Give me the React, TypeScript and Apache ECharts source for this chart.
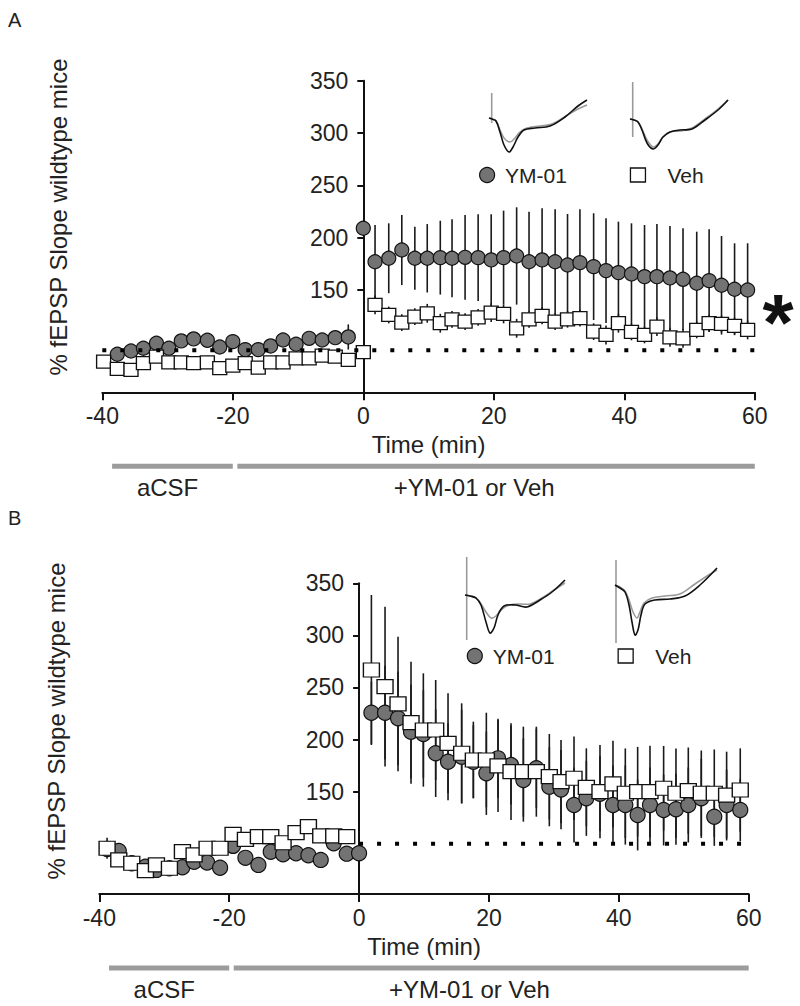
import React, { useEffect, useRef } from "react";
import * as echarts from "echarts";

const FONT = "'Liberation Sans', Arial, Helvetica, sans-serif";

// ---------- shared axis values ----------
const X_MIN = -40;
const X_MAX = 60;
const X_STEP = 20;
const Y_MAX = 350;
const Y_TICKS = [150, 200, 250, 300, 350];

// ---------- Panel A ----------
const timeA = [
  -39.8, -37.7, -35.6, -33.7, -31.7, -29.8, -27.9, -26, -23.9, -22, -20, -18.1, -16.1, -14.2, -12.3, -10.3,
  -8.3, -6.3, -4.3, -2.3, 0, 1.8, 3.9, 5.9, 7.9, 9.8, 11.8, 13.6, 15.6, 17.6, 19.6, 21.5, 23.5, 25.4, 27.4,
  29.4, 31.3, 33.2, 35.3, 37.2, 39.1, 41.1, 43.1, 45, 47, 49, 51.1, 53, 54.9, 56.9, 58.9,
];
const ymA = [
  null, 88.6, 91.7, 94.3, 99.1, 94.3, 101.3, 103.2, 101.9, 95.5, 100.6, 93, 93, 96.5, 102.2, 98.1, 103.8,
  102.2, 104.4, 105.1, 209, 177, 180.3, 188.2, 180.3, 180.3, 180.9, 180.3, 181.2, 180.9, 178.7, 180.9, 182.5,
  177, 178.7, 177, 173.9, 176.1, 172.3, 168.5, 166.6, 165.3, 162.7, 162.7, 161.5, 160.2, 156.4, 158.9, 154.5,
  150.7, 150,
];
const ymSemA = [
  0, 3, 3, 4, 4, 4, 4, 4, 4, 4, 4, 4, 4, 4, 4, 5, 5, 5, 6, 12, 0, 35, 33.4, 33.5, 30.2, 32.7, 35.3, 37.2, 40.5,
  41.4, 43.6, 44.9, 46.5, 47.8, 49.3, 50.1, 48.7, 51, 51, 50, 48.7, 48.4, 49.4, 50.3, 49.7, 48.8, 49.3, 49.1,
  47.1, 43.9, 44.6,
];
const vehA = [
  81.5, 74.5, 73.6, 80, 86.3, 80.9, 80.9, 80, 80.9, 75.2, 77.7, 80, 75.8, 80.9, 80.9, 84.7, 84.7, 87.2, 86.3,
  83.1, 90.5, 135.7, 126.1, 118.8, 124.5, 127.7, 118.2, 122, 119.7, 123.9, 128.3, 127.1, 113.4, 122, 125.2,
  119.7, 122, 123, 110.2, 107, 118.2, 109.9, 107, 115, 104.8, 103.8, 111.8, 118.2, 117.5, 115.6, 111.8,
];
const vehSemA = [
  5, 5, 5, 5, 5, 4, 4, 5, 5, 5, 5, 5, 5, 4, 4, 5, 5, 5, 5, 5, 6, 9, 8, 8, 8, 9, 9, 8, 8, 8, 9, 9, 9, 8, 8, 8, 8,
  8, 8, 9, 9, 8, 8, 9, 9, 9, 8, 8, 8, 8, 9,
];
const baselineA = 92.4;
const baselineSpanA = [-40, 60];

// ---------- Panel B ----------
const timeB = [
  -38.8, -37, -35, -32.9, -31.2, -29.2, -27.2, -25.4, -23.4, -21.4, -19.4, -17.5, -15.5, -13.6, -11.7, -9.7,
  -7.8, -5.9, -3.9, -1.9, 0, 1.9, 4, 6, 8, 9.9, 11.8, 13.7, 15.8, 17.6, 19.6, 21.4, 23.4, 25.3, 27.3, 29.3,
  31.1, 33.1, 35, 37.1, 39.1, 41, 42.9, 44.8, 46.9, 48.8, 50.7, 52.7, 54.7, 56.6, 58.7,
];
const ymB = [
  95, 93.1, 81.3, 78, 74.9, 76.5, 77.5, 82.8, 82, 77, 98, 86.5, 79.7, 92.4, 90, 90.9, 89, 84.5, 100.5, 90.5,
  90.9, 225.8, 225.8, 220.4, 207.6, 205.4, 186.9, 178.8, 183.6, 178.8, 167.7, 182, 175.6, 161.2, 172.5, 154.8,
  152, 137.2, 143.6, 148, 137.2, 137.2, 127.6, 137.2, 132.4, 133.1, 137.2, 143.6, 126, 137.2, 132.4,
];
const ymSemB = [
  5, 5, 5, 5, 5, 5, 5, 5, 5, 5, 5, 5, 5, 5, 5, 5, 5, 5, 5, 5, 4, 30, 45, 45, 45, 42, 42, 37, 45, 35, 40, 38,
  38, 40, 38, 38, 38, 36, 36, 36, 38, 38, 34, 36, 34, 34, 36, 38, 28, 34, 30,
];
const vehB = [
  95.7, 84.5, 81.3, 74.2, 79.7, 76.5, 92.4, 89.3, 95.7, 95.7, 109.1, 104.3, 106.8, 106.8, 101, 110.7, 116.4,
  107.5, 107.5, 106.8, null, 266.8, 250.8, 234.2, 216.2, 209.2, 209.2, 196.4, 186.9, 180.4, 180.4, 174.7,
  169.2, 169.2, 169.2, 164.4, 159.6, 162.9, 154.2, 150, 157.4, 148.5, 150, 150, 153.3, 148.5, 151, 148.5,
  148.5, 146.8, 151.6,
];
const vehSemB = [
  10, 6, 5, 5, 5, 5, 5, 5, 5, 5, 6, 5, 5, 6, 5, 5, 5, 5, 5, 5, 0, 72, 76.7, 64.6, 58.6, 54.4, 48, 48, 47.9,
  36.8, 45.4, 44.1, 46.4, 43.2, 43.2, 41, 40, 40, 37.4, 44.8, 41.6, 43, 43, 44, 40.6, 43, 41.4, 41, 42, 41.6,
  40,
];
const baselineB = 100;
const baselineSpanB = [0, 60];

// ---------- treatment phases (minutes) ----------
const phaseNames = ["aCSF", "+YM-01 or Veh"];
const phaseFrom = [-38.5, -19.3];
const phaseTo = [-20, 60];
const phaseLabelAt = [-30, 17];

// ---------- inset fEPSP trace shapes (local drawing units) ----------
const traceA1 = {
  artifact: [[3.7, 3], [3.7, 33]],
  gray: [[1, 28], [4, 29], [8, 31], [12, 40], [16, 48], [22, 52], [27, 48], [32, 42], [39, 38], [52, 36], [64, 34], [78, 26], [90, 19], [99, 15]],
  black: [[1, 28], [4, 29], [8, 31], [12, 42], [16, 55], [21, 62], [25, 57], [30, 47], [36, 40], [47, 38], [62, 36], [77, 27], [90, 16], [99, 10]],
};
const traceA2 = {
  artifact: [[4.7, -8], [4.7, 47]],
  gray: [[2, 29], [6, 30], [10, 32], [14, 39], [19, 50], [25, 57], [30, 54], [35, 47], [42, 42], [52, 41], [64, 38], [77, 29], [90, 19], [100, 10]],
  black: [[2, 29], [6, 30], [10, 32], [14, 40], [19, 53], [25, 59], [30, 55], [35, 47], [42, 42], [52, 40], [64, 39], [77, 30], [90, 20], [100, 10]],
};
const traceB1 = {
  artifact: [[3.7, -18], [3.7, 65]],
  gray: [[2, 20], [7, 21], [13, 23], [18, 29], [23, 37], [28, 43], [33, 41], [39, 34], [47, 30], [57, 29], [67, 29], [79, 23], [91, 15], [102, 8]],
  black: [[2, 20], [7, 21], [13, 23], [18, 30], [23, 47], [27, 58], [31, 53], [35, 40], [41, 31], [52, 30], [64, 32], [77, 25], [89, 17], [102, 5]],
};
const traceB2 = {
  artifact: [[3, -15], [3, 68]],
  gray: [[2, 10], [7, 12], [12, 16], [16, 25], [20, 37], [24, 43], [27, 37], [31, 28], [39, 23], [52, 21], [67, 19], [82, 9], [94, 1], [104, -5]],
  black: [[2, 10], [7, 13], [12, 17], [16, 30], [19, 47], [22, 60], [25, 55], [28, 40], [32, 29], [42, 25], [57, 24], [72, 21], [87, 10], [104, -7]],
};

type Panel = {
  letter: string;
  grid: { left: number; top: number; width: number; height: number };
  yMin: number;
  time: number[];
  ym: (number | null)[];
  ymSem: number[];
  veh: (number | null)[];
  vehSem: number[];
  base: number;
  baseSpan: number[];
  circle: number;
  square: number[];
  yNameX: number;
  yNameY: number;
  letterY: number;
  legendYM: [number, number];
  legendVeh: [number, number];
  insets: { shape: any; x: number; y: number }[];
};

const panels: Panel[] = [
  {
    letter: "A",
    grid: { left: 102.3, top: 80.7, width: 652.5, height: 311.6 },
    yMin: 52.2,
    time: timeA, ym: ymA, ymSem: ymSemA, veh: vehA, vehSem: vehSemA,
    base: baselineA, baseSpan: baselineSpanA,
    circle: 14, square: [14, 13],
    yNameX: 58, yNameY: 217, letterY: 20,
    legendYM: [479, 164], legendVeh: [629.8, 164],
    insets: [
      { shape: traceA1, x: 488, y: 90 },
      { shape: traceA2, x: 628, y: 90 },
    ],
  },
  {
    letter: "B",
    grid: { left: 99.3, top: 583.3, width: 649.4, height: 310.7 },
    yMin: 51.8,
    time: timeB, ym: ymB, ymSem: ymSemB, veh: vehB, vehSem: vehSemB,
    base: baselineB, baseSpan: baselineSpanB,
    circle: 15, square: [16, 14],
    yNameX: 56, yNameY: 721, letterY: 518,
    legendYM: [466.7, 645], legendVeh: [617.5, 645],
    insets: [
      { shape: traceB1, x: 463, y: 575 },
      { shape: traceB2, x: 613, y: 575 },
    ],
  },
];

const pairs = (t: number[], v: (number | null)[]) =>
  t.map((x, i) => [x, v[i]]).filter((p) => p[1] !== null && p[1] !== undefined);

const errData = (t: number[], v: (number | null)[], s: number[]) =>
  t.map((x, i) => [x, v[i], s[i]]).filter((p) => p[1] !== null && p[1] !== undefined && (p[2] as number) > 0);

const errorBarSeries = (idx: number, name: string, data: any[]) => ({
  type: "custom",
  name,
  xAxisIndex: idx,
  yAxisIndex: idx,
  silent: true,
  data,
  encode: { x: 0, y: [1] },
  renderItem: (params: any, api: any) => {
    const x = api.value(0);
    const m = api.value(1);
    const s = api.value(2);
    const p1 = api.coord([x, m - s]);
    const p2 = api.coord([x, m + s]);
    return {
      type: "line",
      shape: { x1: p1[0], y1: p1[1], x2: p2[0], y2: p2[1] },
      style: { stroke: "#1a1a1a", lineWidth: 1.6 },
    };
  },
});

function buildOption() {
  const grid: any[] = [];
  const xAxis: any[] = [];
  const yAxis: any[] = [];
  const series: any[] = [];
  const legend: any[] = [];

  panels.forEach((p, i) => {
    grid.push({ ...p.grid, containLabel: false });
    xAxis.push({
      type: "value",
      gridIndex: i,
      min: X_MIN,
      max: X_MAX,
      interval: X_STEP,
      axisLine: { onZero: false, lineStyle: { color: "#111", width: 2 } },
      axisTick: { show: true, length: 8, inside: false, lineStyle: { color: "#111", width: 2 } },
      axisLabel: { fontSize: 23, color: "#222", margin: 12, fontFamily: FONT },
      splitLine: { show: false },
      name: "Time (min)",
      nameLocation: "middle",
      nameGap: 40,
      nameTextStyle: { fontSize: 24, color: "#222", fontFamily: FONT },
    });
    // y axis crosses the time axis at t = 0: shift it in from the grid's left edge
    const zeroShift = (p.grid.width * (0 - X_MIN)) / (X_MAX - X_MIN);
    yAxis.push({
      type: "value",
      gridIndex: i,
      min: p.yMin,
      max: Y_MAX,
      position: "left",
      offset: -zeroShift,
      axisLine: { show: true, onZero: false, lineStyle: { color: "#111", width: 2 } },
      axisTick: { show: true, length: 6, customValues: Y_TICKS, lineStyle: { color: "#111", width: 2 } },
      axisLabel: { fontSize: 23, color: "#222", margin: 15, customValues: Y_TICKS, fontFamily: FONT },
      splitLine: { show: false },
    });

    series.push(errorBarSeries(i, "YM-01 SEM", errData(p.time, p.ym, p.ymSem)));
    series.push(errorBarSeries(i, "Veh SEM", errData(p.time, p.veh, p.vehSem)));
    series.push({
      type: "scatter",
      name: "YM-01",
      xAxisIndex: i,
      yAxisIndex: i,
      symbol: "circle",
      symbolSize: p.circle,
      silent: true,
      itemStyle: { color: "#737373", borderColor: "#111", borderWidth: 1.2, opacity: 1 },
      data: pairs(p.time, p.ym),
    });
    series.push({
      type: "line",
      name: "baseline",
      xAxisIndex: i,
      yAxisIndex: i,
      symbol: "none",
      silent: true,
      lineStyle: { color: "#000", width: 4, type: [4, 14], cap: "butt" },
      data: p.baseSpan.map((t) => [t, p.base]),
    });
    series.push({
      type: "scatter",
      name: "Veh",
      xAxisIndex: i,
      yAxisIndex: i,
      symbol: "rect",
      symbolSize: p.square,
      silent: true,
      itemStyle: { color: "#ffffff", borderColor: "#111", borderWidth: 1.3, opacity: 1 },
      data: pairs(p.time, p.veh),
    });

    const legendCommon = {
      orient: "horizontal",
      padding: 0,
      selectedMode: false,
      itemGap: 0,
    };
    legend.push({
      ...legendCommon,
      data: ["YM-01"],
      left: p.legendYM[0],
      top: p.legendYM[1],
      icon: "circle",
      itemWidth: 20,
      itemHeight: 15,
      itemStyle: { color: "#737373", borderColor: "#111", borderWidth: 1.2 },
      textStyle: { fontSize: 21, color: "#222", fontFamily: FONT, lineHeight: 22, padding: [0, 0, 0, 3] },
    });
    legend.push({
      ...legendCommon,
      data: ["Veh"],
      left: p.legendVeh[0],
      top: p.legendVeh[1],
      icon: "rect",
      itemWidth: 15,
      itemHeight: 14,
      itemStyle: { color: "#ffffff", borderColor: "#111", borderWidth: 1.3 },
      textStyle: { fontSize: 21, color: "#222", fontFamily: FONT, lineHeight: 22, padding: [0, 0, 0, 17] },
    });
  });

  return {
    animation: false,
    backgroundColor: "#ffffff",
    textStyle: { fontFamily: FONT },
    grid,
    xAxis,
    yAxis,
    legend,
    series,
  };
}

function buildGraphic(chart: echarts.ECharts) {
  const g: any[] = [];
  panels.forEach((p, i) => {
    const px = (t: number) => chart.convertToPixel({ xAxisIndex: i } as any, t) as unknown as number;
    const axisY = p.grid.top + p.grid.height;

    // panel letter
    g.push({
      type: "text",
      x: 8,
      y: p.letterY,
      style: { text: p.letter, font: `20px ${FONT}`, fill: "#222", verticalAlign: "middle" },
    });
    // y-axis title
    g.push({
      type: "text",
      x: p.yNameX,
      y: p.yNameY,
      rotation: Math.PI / 2,
      style: {
        text: "% fEPSP Slope wildtype mice",
        font: `24px ${FONT}`,
        fill: "#222",
        align: "center",
        verticalAlign: "middle",
      },
    });
    // phase bars and labels
    phaseNames.forEach((name, k) => {
      const x1 = px(phaseFrom[k]);
      const x2 = px(phaseTo[k]);
      g.push({
        type: "rect",
        shape: { x: x1, y: axisY + 71.5, width: x2 - x1, height: 5 },
        style: { fill: "#9c9c9c" },
      });
      g.push({
        type: "text",
        x: px(phaseLabelAt[k]),
        y: axisY + 95,
        style: { text: name, font: `24px ${FONT}`, fill: "#222", align: "center", verticalAlign: "middle" },
      });
    });
    // inset traces
    p.insets.forEach((ins) => {
      g.push({
        type: "group",
        x: ins.x,
        y: ins.y,
        children: [
          { type: "polyline", shape: { points: ins.shape.artifact }, style: { stroke: "#9a9a9a", lineWidth: 1.6, fill: null } },
          { type: "polyline", shape: { points: ins.shape.gray, smooth: 0.35 }, style: { stroke: "#9a9a9a", lineWidth: 1.6, fill: null } },
          { type: "polyline", shape: { points: ins.shape.black, smooth: 0.35 }, style: { stroke: "#111", lineWidth: 1.6, fill: null } },
        ],
      });
    });
  });
  // significance asterisk for panel A
  g.push({
    type: "text",
    x: 778,
    y: 322,
    style: { text: "*", font: `bold 80px ${FONT}`, fill: "#111", align: "center", verticalAlign: "middle" },
  });
  return g;
}

export default function App() {
  const ref = useRef<HTMLDivElement>(null);
  useEffect(() => {
    if (!ref.current) return;
    const chart = echarts.init(ref.current, null, { renderer: "svg" });
    chart.setOption(buildOption() as any);
    chart.setOption({ graphic: buildGraphic(chart) } as any);
    return () => chart.dispose();
  }, []);
  return (
    <div
      ref={ref}
      style={{ position: "absolute", left: 0, top: 0, width: 800, height: 1006, background: "#fff" }}
    />
  );
}
